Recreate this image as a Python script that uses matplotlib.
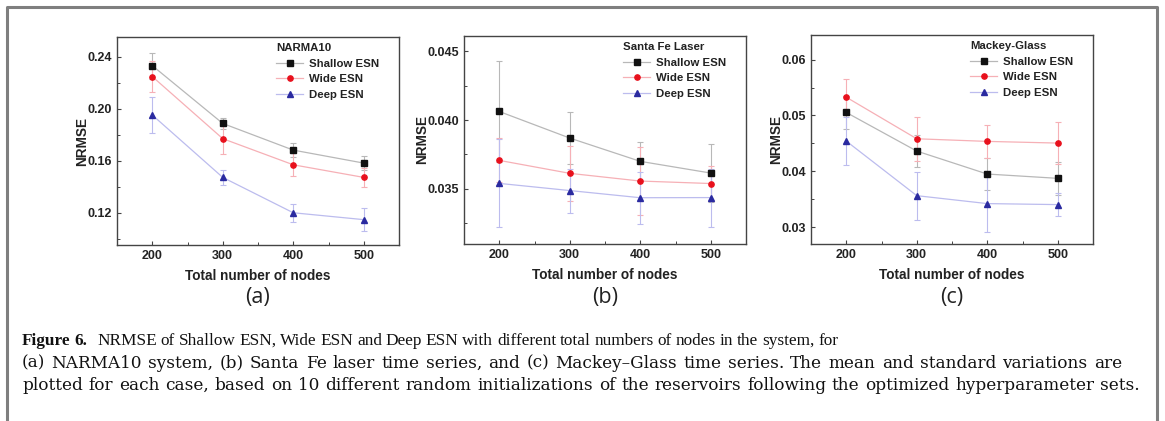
import matplotlib
matplotlib.use("Agg")
import matplotlib.pyplot as plt
from matplotlib.ticker import MultipleLocator, FormatStrFormatter
from matplotlib.lines import Line2D

nodes = [200, 300, 400, 500]
series_names = ["Shallow ESN", "Wide ESN", "Deep ESN"]

# (a) NARMA10
narma_shallow = [0.2330, 0.1885, 0.1680, 0.1580]
narma_shallow_err = [0.0100, 0.0040, 0.0054, 0.0052]
narma_wide = [0.2246, 0.1768, 0.1567, 0.1470]
narma_wide_err = [0.0116, 0.0118, 0.0087, 0.0072]
narma_deep = [0.1950, 0.1470, 0.1198, 0.1145]
narma_deep_err = [0.0139, 0.0058, 0.0068, 0.0091]

# (b) Santa Fe Laser
sf_shallow = [0.04062, 0.03869, 0.03700, 0.03615]
sf_shallow_err = [0.0037, 0.0019, 0.0014, 0.0021]
sf_wide = [0.03707, 0.03613, 0.03557, 0.03539]
sf_wide_err = [0.0016, 0.0020, 0.0025, 0.0013]
sf_deep = [0.03540, 0.03488, 0.03436, 0.03437]
sf_deep_err = [0.0032, 0.0016, 0.0019, 0.0021]

# (c) Mackey-Glass
mg_shallow = [0.05054, 0.04363, 0.03952, 0.03875]
mg_shallow_err = [0.0030, 0.0028, 0.0028, 0.0029]
mg_wide = [0.05327, 0.04583, 0.04536, 0.04506]
mg_wide_err = [0.0032, 0.0039, 0.0030, 0.0037]
mg_deep = [0.04542, 0.03565, 0.03423, 0.03405]
mg_deep_err = [0.0043, 0.0043, 0.0050, 0.0020]

titles = ["NARMA10", "Santa Fe Laser", "Mackey-Glass"]
panel_labels = ["(a)", "(b)", "(c)"]
yticks = [[0.12, 0.16, 0.20, 0.24], [0.035, 0.040, 0.045], [0.03, 0.04, 0.05, 0.06]]
ylims = [(0.095, 0.255), (0.031, 0.0461), (0.027, 0.0644)]
yminor = [0.02, 0.0025, 0.005]
yfmt = ["%.2f", "%.3f", "%.2f"]

caption_bold = "Figure 6."
caption_lines = [
    "NRMSE of Shallow ESN, Wide ESN and Deep ESN with different total numbers of nodes in the system, for",
    "(a) NARMA10 system, (b) Santa Fe laser time series, and (c) Mackey\u2013Glass time series. The mean and standard variations are",
    "plotted for each case, based on 10 different random initializations of the reservoirs following the optimized hyperparameter sets.",
]

data = [
    [(narma_shallow, narma_shallow_err), (narma_wide, narma_wide_err), (narma_deep, narma_deep_err)],
    [(sf_shallow, sf_shallow_err), (sf_wide, sf_wide_err), (sf_deep, sf_deep_err)],
    [(mg_shallow, mg_shallow_err), (mg_wide, mg_wide_err), (mg_deep, mg_deep_err)],
]

line_colors = ["#b8b8b8", "#f6b0b6", "#bcbcee"]
marker_colors = ["#111111", "#e8101c", "#2a2aa0"]
markers = ["s", "o", "^"]

plt.rcParams['font.family'] = ['Liberation Sans', 'DejaVu Sans']
W, H = 1165, 421
fig = plt.figure(figsize=(W / 100, H / 100), dpi=100)

lefts = [117, 464, 811]
tops = [37, 36, 35]
bottoms = [245, 244, 244]
width_px = 282

for i in range(3):
    ax = fig.add_axes([lefts[i] / W, (H - bottoms[i]) / H, width_px / W, (bottoms[i] - tops[i]) / H])
    handles = []
    for j in range(3):
        vals, errs = data[i][j]
        ax.errorbar(nodes, vals, yerr=errs, color=line_colors[j], ecolor=line_colors[j],
                    elinewidth=0.8, capsize=2, capthick=0.8, lw=0.9, zorder=2)
        ax.plot(nodes, vals, linestyle="none", marker=markers[j], ms=3.8,
                mfc=marker_colors[j], mec=marker_colors[j], zorder=3)
        handles.append(Line2D([0], [0], color=line_colors[j], lw=0.9, marker=markers[j], ms=3.8,
                              mfc=marker_colors[j], mec=marker_colors[j]))
    ax.set_xlim(150, 550)
    ax.set_ylim(*ylims[i])
    ax.set_xticks(nodes)
    ax.xaxis.set_minor_locator(MultipleLocator(50))
    ax.set_yticks(yticks[i])
    ax.yaxis.set_minor_locator(MultipleLocator(yminor[i]))
    ax.yaxis.set_major_formatter(FormatStrFormatter(yfmt[i]))
    ax.tick_params(which="both", direction="in", colors="#444444", labelcolor="#222222")
    ax.tick_params(which="major", length=3, width=0.8, labelsize=9)
    ax.tick_params(which="minor", length=2, width=0.7)
    for lbl in ax.get_xticklabels() + ax.get_yticklabels():
        lbl.set_fontweight("bold")
    for sp in ax.spines.values():
        sp.set_color("#444444")
        sp.set_linewidth(1.0)
    ax.set_xlabel("Total number of nodes", fontsize=9.8, fontweight="bold", color="#222222", labelpad=5)
    ax.set_ylabel("NRMSE", fontsize=9.8, fontweight="bold", color="#222222", labelpad=-1)
    leg = ax.legend(handles, series_names, loc="upper right", frameon=False,
                    bbox_to_anchor=(0.93, 0.972),
                    title=titles[i], alignment="left",
                    prop={"weight": "bold", "size": 8.2},
                    title_fontproperties={"weight": "bold", "size": 8.2},
                    handlelength=2.4, handletextpad=0.5, labelspacing=0.5,
                    borderaxespad=0.0, borderpad=0.0)
    for t in leg.get_texts():
        t.set_color("#222222")
    leg.get_title().set_color("#222222")
    cx = (lefts[i] + width_px / 2) / W
    fig.text(cx, (H - 298) / H, panel_labels[i], ha="center", va="center",
             fontsize=15.5, family=["Open Sans", "DejaVu Sans"], color="#222222")

# Caption, set word by word and justified between the reference's line starts and ends.
renderer = fig.canvas.get_renderer()
cap_color = "#111111"
y_rows = [341, 363, 385]
narrow_font = ["Liberation Serif", "DejaVu Serif"]
wide_font = ["DejaVu Serif", "Liberation Serif"]


def set_line(words, y_px, x0, x1, size, family, weight="normal"):
    texts = [fig.text(0, (H - y_px) / H, w, fontsize=size, fontweight=weight, family=family,
                      va="center", ha="left", color=cap_color) for w in words]
    widths = [t.get_window_extent(renderer).width for t in texts]
    gap = (x1 - x0 - sum(widths)) / (len(words) - 1)
    x = float(x0)
    for t, w in zip(texts, widths):
        t.set_x(x / W)
        x += w + gap


# line 1: bold label, then the text ending near x = 838
s1 = 12.4
x = 22.0
for w in caption_bold.split(" "):
    t = fig.text(x / W, (H - y_rows[0]) / H, w, fontsize=s1, fontweight="bold", family=narrow_font,
                 va="center", ha="left", color=cap_color)
    x = t.get_window_extent(renderer).x1 + 4
set_line(caption_lines[0].split(" "), y_rows[0], 97, 838, s1, narrow_font)

# lines 2 and 3
probe = fig.text(0, 0, caption_lines[2], fontsize=12.0, family=wide_font)
wpx = probe.get_window_extent(renderer).width
probe.remove()
s2 = 12.0 * (1106.0 / wpx)
line_ends = [None, 1122, 1140]
for k in (1, 2):
    set_line(caption_lines[k].split(" "), y_rows[k], 22, line_ends[k], s2, wide_font)

# Outer frame (open at the bottom)
fx0, fx1, fy = 7 / W, 1157 / W, (H - 7) / H
fig.add_artist(Line2D([fx0, fx0, fx1, fx1], [0, fy, fy, 0], transform=fig.transFigure,
                      color="#7f7f7f", lw=2.2))

fig.savefig("out.png", dpi=100)
